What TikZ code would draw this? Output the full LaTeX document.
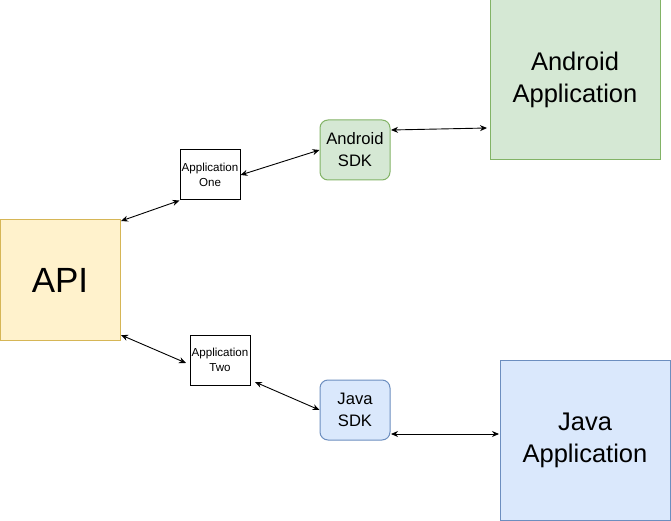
\documentclass[tikz,border=0pt]{standalone}
\usepackage{fontspec}
\setmainfont{Liberation Sans}
\usetikzlibrary{arrows.meta}
\definecolor{yfill}{HTML}{FFF2CC}
\definecolor{ydraw}{HTML}{D6B656}
\definecolor{gfill}{HTML}{D5E8D4}
\definecolor{gdraw}{HTML}{82B366}
\definecolor{bfill}{HTML}{DAE8FC}
\definecolor{bdraw}{HTML}{6C8EBF}
\tikzset{
  box/.style={draw, line width=1pt, inner sep=0pt, align=center},
  appbox/.style={box, fill=white, draw=black, minimum width=60pt, minimum height=50pt, font=\fontsize{11.6}{15}\selectfont},
  sdkbox/.style={box, rounded corners=8pt, minimum width=70pt, minimum height=60pt, font=\fontsize{16.6}{22}\selectfont},
  bigbox/.style={box, minimum width=170pt, minimum height=160pt, font=\fontsize{25.5}{32}\selectfont},
  link/.style={line width=0.9pt, {Stealth[length=7pt,width=6pt]}-{Stealth[length=7pt,width=6pt]}}
}
\begin{document}
\begin{tikzpicture}[x=1pt,y=-1pt]
\useasboundingbox (0,0) rectangle (671,521);
\node[box, fill=yfill, draw=ydraw, minimum width=120pt, minimum height=120pt, font=\fontsize{35}{40}\selectfont] (api) at (60,280) {API};
\node[appbox] (one) at (210,175) {Application\\One};
\node[appbox] (two) at (220,360) {Application\\Two};
\node[sdkbox, fill=gfill, draw=gdraw] (asdk) at (355,150) {Android\\SDK};
\node[sdkbox, fill=bfill, draw=bdraw] (jsdk) at (355,410) {Java\\SDK};
\node[bigbox, fill=gfill, draw=gdraw] (aapp) at (575,80) {Android\\Application};
\node[bigbox, fill=bfill, draw=bdraw] (japp) at (585,440) {Java\\Application};
\coordinate (a1) at (121,221);
\coordinate (a2) at (121,335);
\coordinate (t1) at (186,363);
\coordinate (t2) at (255,382);
\coordinate (s1) at (391,130);
\coordinate (p1) at (487,128);
\coordinate (s2) at (391,434);
\coordinate (p2) at (499,434);
\draw[link] (a1) -- (one.south west);
\draw[link] (one.east) -- (asdk.west);
\draw[link] (s1) -- (p1);
\draw[link] (a2) -- (t1);
\draw[link] (t2) -- (jsdk.west);
\draw[link] (s2) -- (p2);
\end{tikzpicture}
\end{document}
